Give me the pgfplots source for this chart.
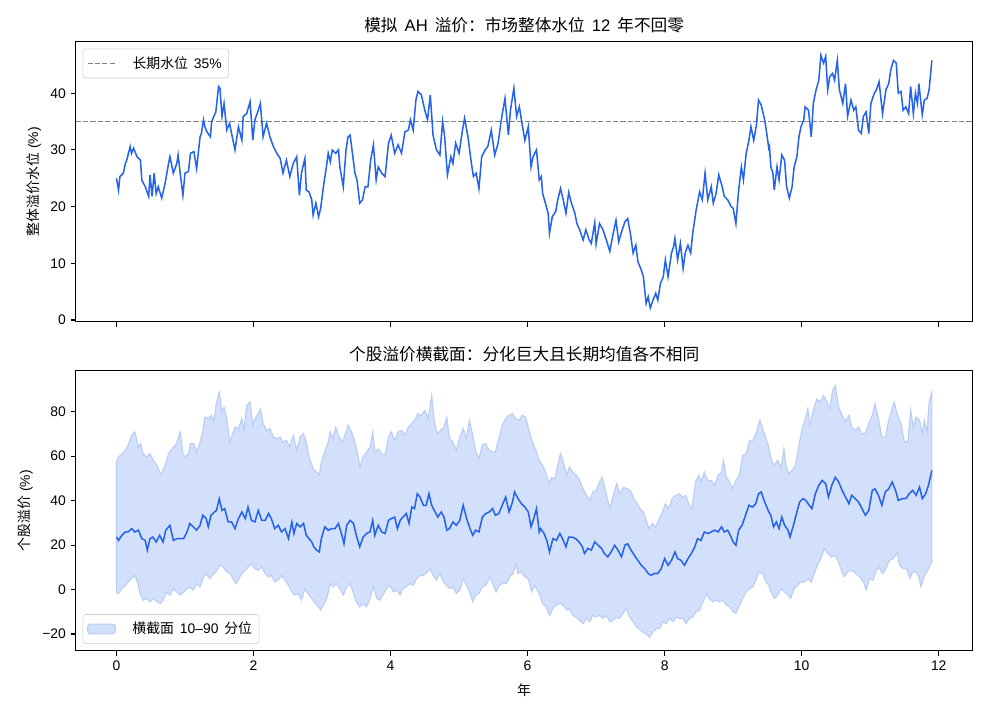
\documentclass[border=0pt]{standalone}
\usepackage{fontspec}
\setmainfont{Liberation Sans}
\newfontfamily\cjk{Noto Sans CJK SC}
\newcommand\gap{\hspace{0.42em}}
\usepackage{pgfplots}
\pgfplotsset{compat=1.18}
\usepackage{pgfplotstable}
\usepgfplotslibrary{fillbetween}

\definecolor{lineblue}{RGB}{37,99,235}
\definecolor{bandfill}{RGB}{211,224,251}
\definecolor{bandedge}{RGB}{186,205,247}
\definecolor{legframe}{RGB}{204,204,204}
\definecolor{refgray}{RGB}{128,128,128}

% overall premium level (%)
\pgfplotstableread{
t v
0.00 25.0
0.03 22.9
0.05 25.3
0.10 25.9
0.13 27.6
0.15 28.2
0.20 30.6
0.22 29.4
0.25 30.3
0.30 28.8
0.35 28.2
0.37 24.7
0.42 23.5
0.47 21.8
0.49 25.6
0.52 21.8
0.55 25.9
0.58 22.3
0.61 23.5
0.66 21.5
0.71 24.1
0.76 27.6
0.78 28.8
0.83 25.9
0.88 27.6
0.90 29.1
0.93 25.9
0.97 22.0
1.00 25.9
1.05 26.2
1.08 29.4
1.13 29.7
1.17 26.7
1.22 32.3
1.24 32.9
1.27 35.3
1.29 34.1
1.32 33.2
1.37 32.3
1.39 35.0
1.42 35.9
1.45 36.7
1.49 41.2
1.51 40.9
1.54 35.9
1.57 38.2
1.61 33.5
1.65 34.7
1.68 32.9
1.73 30.0
1.78 34.1
1.83 31.7
1.85 35.9
1.90 36.4
1.95 38.5
1.99 31.7
2.02 35.3
2.07 37.0
2.10 38.2
2.14 32.3
2.19 34.7
2.24 32.3
2.29 30.6
2.34 29.4
2.39 28.5
2.43 25.9
2.48 28.2
2.53 25.3
2.58 27.6
2.63 28.8
2.67 22.0
2.70 25.9
2.75 28.5
2.77 22.9
2.81 22.6
2.85 21.2
2.87 18.5
2.91 20.6
2.95 18.2
2.98 19.7
3.02 23.5
3.06 26.7
3.09 29.4
3.12 27.9
3.15 30.0
3.20 29.4
3.24 30.0
3.26 27.0
3.31 23.5
3.35 30.0
3.38 32.3
3.41 32.6
3.45 28.8
3.48 25.9
3.51 24.7
3.55 20.6
3.59 21.2
3.63 23.5
3.67 23.5
3.71 28.2
3.75 30.9
3.79 24.7
3.82 27.0
3.87 25.9
3.92 25.3
3.97 31.2
4.01 32.6
4.06 29.4
4.11 30.9
4.16 29.4
4.21 33.2
4.26 33.5
4.29 35.3
4.33 33.5
4.37 38.8
4.40 40.3
4.45 39.7
4.50 37.0
4.54 35.3
4.58 39.7
4.62 32.6
4.67 30.0
4.72 29.1
4.76 35.0
4.79 32.3
4.83 25.6
4.88 28.8
4.91 27.6
4.95 31.2
5.00 29.4
5.05 33.5
5.08 35.6
5.13 32.3
5.18 27.6
5.21 25.3
5.25 25.9
5.29 23.2
5.33 28.8
5.38 30.0
5.42 30.6
5.47 33.5
5.52 29.1
5.57 31.2
5.62 35.6
5.67 39.1
5.72 32.6
5.75 37.0
5.80 40.9
5.84 35.9
5.88 37.6
5.91 35.3
5.96 31.7
6.01 34.1
6.05 27.0
6.08 28.8
6.13 30.0
6.17 24.7
6.20 25.3
6.22 22.3
6.26 20.6
6.30 18.8
6.32 15.3
6.36 18.2
6.41 19.1
6.44 21.2
6.48 23.2
6.52 21.2
6.56 18.8
6.60 22.5
6.64 20.6
6.69 18.8
6.72 17.0
6.76 15.9
6.81 14.1
6.85 15.9
6.90 14.1
6.93 13.5
6.98 17.2
7.00 13.4
7.05 17.0
7.10 15.9
7.15 14.1
7.20 12.1
7.24 14.7
7.29 17.6
7.33 13.8
7.38 15.9
7.42 17.3
7.46 17.9
7.50 15.3
7.54 11.8
7.58 13.2
7.61 10.3
7.66 8.8
7.69 7.6
7.73 2.9
7.76 4.1
7.79 2.1
7.83 3.5
7.87 4.7
7.90 3.5
7.94 6.5
7.98 7.6
8.01 10.6
8.05 7.6
8.10 11.8
8.13 12.9
8.15 14.4
8.19 10.6
8.23 13.5
8.27 9.1
8.30 11.8
8.34 13.2
8.38 11.8
8.41 15.3
8.46 19.4
8.51 22.6
8.55 21.2
8.59 25.9
8.63 21.2
8.68 23.5
8.71 20.6
8.75 22.3
8.79 25.6
8.84 23.5
8.87 21.8
8.92 21.2
8.97 20.0
9.00 19.7
9.04 17.0
9.08 22.9
9.12 27.0
9.15 24.7
9.19 29.4
9.23 31.7
9.26 34.1
9.30 31.7
9.34 34.4
9.37 38.8
9.41 37.9
9.46 35.3
9.49 32.9
9.52 30.3
9.53 30.6
9.55 27.0
9.58 25.9
9.60 22.9
9.64 27.0
9.67 24.7
9.71 29.1
9.75 28.2
9.78 23.5
9.82 21.5
9.86 23.5
9.89 27.0
9.93 28.8
9.96 32.3
9.99 34.1
10.03 35.3
10.05 37.6
10.10 37.0
10.14 32.3
10.17 38.2
10.21 40.6
10.25 42.3
10.28 46.7
10.32 45.3
10.35 46.5
10.38 40.6
10.41 42.9
10.45 43.5
10.48 42.3
10.52 45.8
10.55 40.6
10.60 38.2
10.64 41.7
10.67 35.9
10.72 38.8
10.76 37.0
10.79 37.6
10.83 33.5
10.87 32.9
10.90 35.9
10.94 36.7
10.98 32.9
11.01 38.2
11.06 40.0
11.09 40.6
11.13 42.0
11.18 36.4
11.23 40.6
11.27 41.7
11.30 44.1
11.34 45.8
11.38 45.3
11.41 40.0
11.45 40.3
11.48 37.0
11.52 37.6
11.56 36.4
11.59 41.2
11.63 36.4
11.66 40.0
11.69 38.2
11.71 41.7
11.76 36.2
11.79 38.8
11.83 39.1
11.86 40.6
11.90 45.8
}\datalevel

% cross-section 90th percentile
\pgfplotstableread{
t v
0.00 57.4
0.03 59.6
0.08 61.1
0.13 62.6
0.17 64.9
0.22 69.4
0.27 70.9
0.32 64.1
0.35 65.6
0.39 61.1
0.44 59.6
0.49 61.1
0.54 58.1
0.59 55.9
0.63 52.8
0.66 52.1
0.71 55.9
0.76 61.1
0.81 63.3
0.86 64.9
0.89 67.1
0.93 70.9
0.97 61.1
1.00 59.6
1.05 61.1
1.08 65.6
1.13 65.6
1.17 61.9
1.22 66.4
1.26 70.9
1.29 77.6
1.34 76.9
1.39 78.4
1.42 75.4
1.46 84.3
1.50 88.8
1.54 79.8
1.57 82.1
1.61 76.9
1.65 66.4
1.68 68.6
1.73 73.1
1.78 72.4
1.83 76.9
1.86 71.6
1.90 82.9
1.95 84.3
1.99 73.9
2.02 76.9
2.07 79.1
2.10 81.3
2.14 74.6
2.19 71.6
2.24 72.4
2.29 68.6
2.34 67.9
2.39 68.6
2.43 66.4
2.48 67.1
2.53 64.1
2.58 69.4
2.63 62.6
2.68 68.6
2.73 70.1
2.77 66.4
2.81 59.6
2.87 54.4
2.92 52.8
2.96 51.4
2.99 57.4
3.04 61.9
3.09 66.4
3.12 70.9
3.16 67.9
3.20 73.1
3.25 68.6
3.30 66.4
3.35 70.9
3.38 73.9
3.43 70.9
3.48 66.4
3.53 59.6
3.55 55.1
3.60 59.6
3.65 61.9
3.70 64.1
3.74 70.9
3.77 61.9
3.82 63.3
3.87 61.1
3.92 60.4
3.97 68.6
4.01 70.9
4.06 67.1
4.11 70.9
4.16 71.6
4.21 69.4
4.26 73.1
4.31 74.6
4.35 76.1
4.40 79.1
4.45 78.4
4.50 80.6
4.55 76.9
4.60 87.3
4.64 75.4
4.68 70.1
4.73 71.6
4.78 73.1
4.82 77.6
4.86 67.9
4.91 66.4
4.96 62.6
5.01 68.6
5.06 72.4
5.11 67.9
5.15 76.1
5.20 69.4
5.24 62.6
5.29 58.9
5.34 65.2
5.39 65.6
5.44 62.6
5.49 61.9
5.53 61.9
5.58 67.9
5.63 73.9
5.68 76.9
5.73 78.4
5.78 79.1
5.83 76.9
5.88 76.1
5.92 78.4
5.97 77.6
6.02 71.6
6.07 66.4
6.12 62.6
6.17 58.1
6.22 55.9
6.27 52.1
6.31 47.6
6.35 50.5
6.40 49.8
6.44 55.9
6.48 61.1
6.52 57.4
6.57 51.4
6.61 55.1
6.66 52.8
6.71 51.4
6.76 49.1
6.81 45.3
6.86 42.3
6.91 40.1
6.95 43.9
7.00 44.6
7.05 48.4
7.09 50.5
7.14 43.9
7.20 36.4
7.25 42.3
7.30 47.6
7.35 43.1
7.40 46.1
7.45 45.3
7.50 44.6
7.55 40.9
7.60 38.6
7.64 36.4
7.69 34.9
7.73 31.1
7.77 27.4
7.82 29.7
7.87 28.2
7.92 31.9
7.97 34.9
8.01 38.6
8.06 36.4
8.11 40.9
8.16 42.3
8.21 43.1
8.26 41.6
8.31 42.3
8.35 38.6
8.40 36.4
8.45 48.4
8.50 51.4
8.53 48.4
8.58 52.8
8.63 49.1
8.68 49.1
8.73 46.9
8.78 51.4
8.83 52.8
8.86 58.1
8.90 50.5
8.95 48.4
8.99 45.3
9.04 49.1
9.09 51.4
9.14 60.4
9.19 61.1
9.24 67.1
9.29 67.1
9.34 70.9
9.39 76.1
9.43 72.4
9.48 67.9
9.52 64.1
9.53 61.9
9.57 57.4
9.60 55.9
9.65 58.1
9.70 54.4
9.74 63.3
9.77 55.9
9.81 52.1
9.86 53.6
9.91 55.9
9.96 64.9
10.01 73.1
10.04 75.4
10.09 81.3
10.12 73.9
10.17 80.6
10.22 85.8
10.27 84.3
10.32 87.3
10.37 84.3
10.41 81.3
10.45 89.5
10.49 91.8
10.54 82.1
10.59 78.4
10.64 75.4
10.69 78.4
10.73 73.1
10.78 71.6
10.83 73.1
10.88 70.1
10.93 70.1
10.98 74.6
11.03 78.4
11.07 83.6
11.12 76.9
11.17 68.6
11.22 68.6
11.27 76.1
11.32 81.3
11.35 84.3
11.40 78.4
11.45 74.6
11.50 66.4
11.55 66.4
11.59 80.6
11.63 73.1
11.67 77.6
11.72 76.1
11.76 70.1
11.79 76.1
11.83 70.9
11.86 84.3
11.90 88.8
}\datahi

% cross-section median
\pgfplotstableread{
t v
0.00 23.6
0.03 22.1
0.08 24.4
0.13 25.9
0.17 25.9
0.22 27.4
0.27 25.9
0.32 26.7
0.37 22.9
0.42 22.1
0.45 17.7
0.49 22.9
0.53 23.6
0.58 21.4
0.63 24.4
0.68 21.4
0.72 26.7
0.78 28.9
0.83 22.1
0.88 22.9
0.93 22.9
0.98 22.9
1.03 25.9
1.07 29.7
1.12 28.2
1.17 26.7
1.22 28.9
1.26 33.4
1.31 31.9
1.34 28.2
1.38 33.4
1.43 34.9
1.46 35.6
1.50 40.9
1.54 35.6
1.58 36.4
1.63 30.4
1.68 30.4
1.73 27.4
1.78 31.9
1.83 34.9
1.88 31.9
1.92 37.1
1.97 31.1
2.02 30.4
2.07 35.6
2.12 31.1
2.17 31.1
2.22 34.2
2.26 31.9
2.31 27.4
2.36 28.9
2.41 25.9
2.46 27.4
2.51 22.9
2.56 30.4
2.59 25.2
2.63 29.7
2.68 28.2
2.73 29.7
2.77 24.4
2.81 22.9
2.85 21.4
2.88 19.2
2.92 17.7
2.96 16.9
2.99 22.9
3.04 28.2
3.09 26.7
3.14 27.4
3.19 27.4
3.24 29.7
3.29 24.4
3.32 20.6
3.36 28.9
3.41 31.1
3.46 29.7
3.50 24.4
3.55 19.2
3.60 23.6
3.65 25.2
3.70 25.9
3.74 31.1
3.77 24.4
3.82 28.9
3.87 25.9
3.92 25.2
3.97 31.1
4.01 31.9
4.06 32.6
4.10 27.4
4.14 31.1
4.18 32.6
4.23 34.2
4.27 29.7
4.31 37.1
4.35 36.4
4.39 43.1
4.43 41.6
4.48 37.9
4.52 37.9
4.56 43.1
4.60 37.9
4.65 34.9
4.69 32.6
4.74 34.9
4.78 32.6
4.82 26.7
4.86 27.4
4.91 30.4
4.96 28.9
5.01 31.1
5.06 37.9
5.11 31.9
5.16 27.4
5.20 24.4
5.24 26.7
5.29 25.9
5.34 32.6
5.39 34.2
5.44 34.9
5.49 36.4
5.53 33.4
5.58 34.2
5.63 37.9
5.68 41.6
5.73 34.9
5.78 39.4
5.81 43.9
5.86 40.9
5.91 38.6
5.96 37.1
6.01 34.9
6.05 28.2
6.09 31.9
6.13 36.4
6.17 25.9
6.19 27.4
6.24 25.2
6.28 22.1
6.32 16.9
6.37 22.9
6.42 22.1
6.47 25.2
6.51 22.9
6.56 19.2
6.60 23.6
6.65 23.6
6.70 22.9
6.75 21.4
6.80 19.2
6.83 16.2
6.88 18.5
6.93 17.7
6.98 21.4
7.03 19.9
7.08 18.5
7.12 16.2
7.17 14.7
7.22 16.9
7.27 19.9
7.32 17.7
7.37 14.7
7.42 19.9
7.46 20.6
7.51 17.7
7.56 15.3
7.61 13.1
7.66 10.9
7.71 9.4
7.76 7.2
7.80 6.4
7.85 7.2
7.90 7.2
7.95 9.4
8.00 13.9
8.05 10.9
8.10 13.1
8.15 16.9
8.19 13.9
8.24 13.1
8.29 10.9
8.34 13.9
8.39 16.2
8.44 19.2
8.48 22.9
8.53 22.1
8.58 25.9
8.63 25.2
8.68 25.9
8.73 26.7
8.78 25.9
8.83 28.2
8.87 25.9
8.92 26.7
8.97 23.6
9.00 21.4
9.04 19.9
9.08 26.7
9.13 28.9
9.18 33.4
9.23 37.9
9.28 37.1
9.33 38.6
9.37 43.1
9.41 43.9
9.46 39.4
9.52 34.9
9.55 33.4
9.59 28.2
9.63 30.4
9.67 27.4
9.71 32.6
9.75 28.9
9.80 26.7
9.83 23.6
9.88 28.9
9.93 34.9
9.97 39.4
10.02 40.9
10.06 40.1
10.11 37.9
10.15 36.4
10.20 43.1
10.25 46.9
10.30 49.1
10.35 47.6
10.39 41.6
10.44 46.9
10.49 50.5
10.54 48.4
10.59 44.6
10.64 41.6
10.69 38.6
10.73 42.4
10.78 40.9
10.83 39.4
10.88 36.4
10.93 33.4
10.98 35.6
11.03 44.6
11.07 45.3
11.12 42.4
11.17 37.9
11.22 43.9
11.27 45.3
11.32 48.4
11.37 44.6
11.41 40.1
11.47 40.9
11.52 40.9
11.57 43.1
11.62 44.6
11.67 42.4
11.72 46.1
11.76 40.9
11.81 43.1
11.85 46.9
11.90 53.6
}\datamed

% cross-section 10th percentile
\pgfplotstableread{
t v
0.00 -1.1
0.03 -1.8
0.08 0.4
0.13 1.9
0.17 3.4
0.22 4.9
0.27 6.4
0.32 1.9
0.35 -2.5
0.39 -4.8
0.44 -4.0
0.49 -5.5
0.54 -4.0
0.59 -5.5
0.64 -6.3
0.68 -4.8
0.73 -1.1
0.78 -2.5
0.83 0.4
0.88 -1.1
0.93 -2.5
0.98 -1.1
1.03 0.4
1.07 1.2
1.12 -0.3
1.17 2.7
1.22 1.2
1.27 5.7
1.31 7.2
1.36 4.9
1.40 6.4
1.45 7.9
1.51 10.9
1.56 10.2
1.61 7.9
1.66 7.2
1.71 4.2
1.75 2.7
1.80 5.7
1.85 7.9
1.90 9.4
1.97 11.7
2.02 9.4
2.07 8.7
2.12 10.2
2.17 7.2
2.22 5.7
2.26 6.4
2.31 3.4
2.36 4.2
2.41 6.4
2.46 4.2
2.51 1.9
2.56 -1.1
2.60 -2.5
2.65 -1.8
2.70 -4.8
2.75 0.4
2.81 -2.5
2.85 -4.0
2.90 -6.3
2.95 -7.8
2.98 -9.3
3.03 -6.3
3.07 -4.0
3.12 2.7
3.16 1.2
3.21 2.7
3.26 0.4
3.31 -2.5
3.36 1.2
3.41 2.7
3.46 -1.8
3.50 -5.5
3.55 -7.8
3.60 -6.3
3.65 -7.8
3.70 -4.0
3.75 1.2
3.80 -4.0
3.84 -4.8
3.89 -2.5
3.94 0.4
3.99 1.9
4.04 -1.1
4.09 -0.3
4.14 -2.5
4.18 0.4
4.23 1.2
4.28 2.7
4.33 1.9
4.38 4.9
4.43 6.4
4.48 6.4
4.52 7.2
4.58 9.4
4.62 6.4
4.67 4.2
4.72 7.2
4.77 3.4
4.82 1.9
4.86 0.4
4.91 1.2
4.96 -1.8
5.01 -0.3
5.06 4.9
5.11 1.9
5.16 -1.8
5.20 -5.5
5.24 -2.5
5.29 -1.8
5.34 1.2
5.39 1.9
5.45 5.7
5.50 1.9
5.54 -1.1
5.59 1.9
5.64 2.7
5.69 2.7
5.74 5.7
5.79 7.2
5.83 11.7
5.86 7.2
5.91 7.9
5.96 5.7
6.01 4.9
6.06 -1.1
6.10 1.9
6.17 -1.8
6.22 -6.3
6.27 -7.8
6.32 -11.6
6.37 -8.5
6.42 -7.0
6.47 -6.3
6.52 -7.0
6.57 -9.3
6.61 -8.5
6.66 -11.6
6.71 -12.4
6.76 -13.9
6.81 -15.4
6.86 -13.0
6.91 -14.5
6.95 -11.6
7.00 -12.4
7.05 -11.6
7.10 -13.0
7.15 -11.6
7.20 -14.5
7.25 -13.9
7.29 -12.4
7.34 -13.0
7.39 -10.8
7.44 -8.5
7.49 -12.4
7.54 -14.5
7.59 -16.9
7.63 -17.6
7.68 -19.1
7.73 -19.9
7.78 -21.4
7.83 -19.1
7.88 -17.6
7.93 -17.6
7.97 -14.5
8.02 -15.4
8.07 -13.0
8.12 -14.5
8.17 -12.4
8.22 -13.0
8.27 -13.0
8.31 -15.4
8.36 -13.0
8.41 -12.4
8.46 -10.0
8.51 -9.3
8.56 -5.5
8.61 -1.8
8.65 -4.0
8.70 -5.5
8.75 -4.8
8.80 -5.5
8.85 -4.8
8.90 -7.0
8.95 -7.8
9.00 -10.0
9.04 -10.8
9.08 -7.8
9.14 -4.0
9.19 -1.1
9.24 0.4
9.29 1.2
9.34 4.9
9.38 7.9
9.43 7.2
9.48 3.4
9.52 1.9
9.55 -1.1
9.60 -4.0
9.65 -2.5
9.70 0.4
9.75 -1.1
9.80 -2.5
9.84 -4.0
9.89 0.4
9.94 1.9
9.99 3.4
10.04 3.4
10.09 4.9
10.14 3.4
10.19 7.9
10.23 10.9
10.28 13.9
10.33 18.4
10.38 16.2
10.43 14.7
10.48 15.4
10.53 13.1
10.57 9.4
10.62 5.7
10.67 7.9
10.72 8.7
10.77 7.9
10.82 6.4
10.87 4.9
10.91 2.7
10.94 -0.3
10.99 4.9
11.04 4.2
11.08 7.9
11.13 10.2
11.18 7.2
11.23 9.4
11.28 13.1
11.34 13.9
11.39 16.9
11.43 10.9
11.48 9.4
11.53 9.4
11.58 4.9
11.62 7.9
11.67 7.9
11.71 5.7
11.74 1.2
11.79 6.4
11.84 8.7
11.90 12.4
}\datalo

\pgfplotsset{
  panel/.style={
    scale only axis,
    width=645.8pt,
    xmin=-0.595, xmax=12.495,
    axis line style={line width=0.8pt},
    tick align=outside,
    xtick pos=bottom, ytick pos=left,
    major tick length=3.5pt,
    every tick/.style={black, line width=0.8pt},
    tick label style={font=\fontsize{10}{12}\selectfont},
    label style={font=\fontsize{10}{12}\selectfont},
    title style={font=\fontsize{12}{14}\selectfont, at={(0.5,1)}, anchor=base, yshift=1pt, inner sep=0pt},
    xtick={0,2,4,6,8,10,12},
    legend cell align=left,
    legend style={draw=legframe, rounded corners=2pt, fill=white,
      font=\fontsize{10}{12}\selectfont, at={(0,1)}, anchor=north west,
      xshift=5pt, yshift=-5pt, inner xsep=3pt, inner ysep=3.5pt},
  }
}

\begin{document}
\begin{tikzpicture}
% page frame, 990 x 715 px
\path (0,0) rectangle (712.8pt,514.8pt);

\begin{axis}[panel,
  at={(54.5pt,283.2pt)}, anchor=south west,
  height=201.6pt,
  ymin=-0.3, ymax=49.1,
  ytick={0,10,20,30,40}, yticklabels={0,10,20,30,40},
  xticklabels={},
  ylabel={{\cjk 整体溢价水位} (\%)},
  title={{\cjk 模拟}\gap AH\gap{\cjk 溢价：市场整体水位}\gap 12\gap{\cjk 年不回零}},
  legend image code/.code={\draw[#1] (0pt,0pt) -- (20pt,0pt); \path (30pt,0pt);},
]
\addplot[refgray, line width=0.7pt, dash pattern=on 3.7pt off 1.6pt]
  coordinates {(-0.595,35) (12.495,35)};
\addlegendentry{{\cjk 长期水位}\gap 35\%}
\addplot[lineblue, line width=1.1pt, forget plot] table[x=t, y=v] {\datalevel};
\end{axis}

\begin{axis}[panel,
  at={(54.5pt,46.2pt)}, anchor=south west,
  height=201.9pt,
  ymin=-27.6, ymax=98.6,
  ytick={-20,0,20,40,60,80}, yticklabels={−20,0,20,40,60,80},
  xticklabels={0,2,4,6,8,10,12},
  xlabel={\cjk 年},
  xlabel style={yshift=-3pt},
  ylabel={{\cjk 个股溢价} (\%)},
  title={\cjk 个股溢价横截面：分化巨大且长期均值各不相同},
  legend style={at={(0,0)}, anchor=south west, xshift=0pt, yshift=10pt},
]
\addplot[name path=hi, draw=none, forget plot] table[x=t, y=v] {\datahi};
\addplot[name path=lo, draw=none, forget plot] table[x=t, y=v] {\datalo};
\addplot[fill=bandfill, draw=bandedge, line width=0.8pt, forget plot] fill between[of=hi and lo];
\addplot[lineblue, line width=1.1pt, forget plot] table[x=t, y=v] {\datamed};
\addlegendimage{legend image code/.code={\draw[fill=bandfill, draw=bandedge, line width=0.8pt] (0pt,-3.5pt) rectangle (20pt,3.5pt); \path (30pt,0pt);}}
\addlegendentry{{\cjk 横截面}\gap 10–90\gap{\cjk 分位}}
\end{axis}
\end{tikzpicture}
\end{document}
